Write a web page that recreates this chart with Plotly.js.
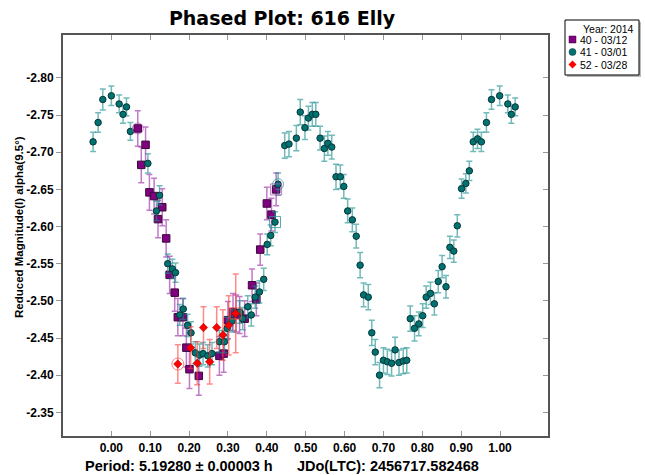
<!DOCTYPE html>
<html>
<head>
<meta charset="utf-8">
<script src="https://cdn.plot.ly/plotly-3.0.1.min.js"></script>
<style>html,body{margin:0;padding:0;background:#fff;}#chart{width:645px;height:475px;}</style>
</head>
<body>
<div id="chart"></div>
<script>
// ---- Session 40 - 03/12 (purple squares)
const phase40 = [0.068,0.077,0.088,0.098,0.110,0.120,0.131,0.141,0.150,0.163,0.171,0.184,0.193,0.201,0.225,0.278,0.289,0.300,0.313,0.321,0.330,0.343,0.362,0.373,0.383,0.400,0.412,0.424];
const mag40   = [-2.732,-2.683,-2.710,-2.646,-2.641,-2.610,-2.626,-2.584,-2.535,-2.511,-2.478,-2.478,-2.437,-2.408,-2.399,-2.426,-2.429,-2.474,-2.485,-2.483,-2.481,-2.476,-2.521,-2.502,-2.569,-2.631,-2.616,-2.650];
const err40   = [0.024,0.024,0.024,0.024,0.024,0.025,0.025,0.025,0.025,0.025,0.025,0.025,0.026,0.026,0.026,0.026,0.025,0.025,0.025,0.025,0.025,0.024,0.022,0.022,0.021,0.022,0.022,0.022];

// ---- Session 41 - 03/01 (teal circles)
const phase41 = [-0.047,-0.034,-0.022,0.000,0.020,0.030,0.039,0.049,0.094,0.116,0.124,0.145,0.157,0.165,0.176,0.185,0.196,0.205,0.216,0.227,0.236,0.248,0.259,0.278,0.291,0.298,0.311,0.330,0.338,0.351,0.360,0.370,0.381,0.392,0.401,0.410,0.421,0.429,0.446,0.457,0.476,0.486,0.498,0.507,0.517,0.526,0.537,0.548,0.557,0.567,0.578,0.589,0.598,0.608,0.620,0.630,0.640,0.649,0.661,0.670,0.679,0.690,0.700,0.710,0.721,0.730,0.740,0.751,0.760,0.769,0.780,0.791,0.801,0.810,0.821,0.831,0.841,0.851,0.861,0.871,0.881,0.890,0.901,0.912,0.921,0.931,0.942,0.952,0.965,0.978,0.999,1.020,1.029,1.039];
const mag41   = [-2.714,-2.740,-2.771,-2.776,-2.765,-2.751,-2.761,-2.728,-2.685,-2.621,-2.642,-2.550,-2.543,-2.538,-2.481,-2.489,-2.467,-2.457,-2.430,-2.427,-2.429,-2.426,-2.429,-2.445,-2.445,-2.463,-2.473,-2.485,-2.476,-2.492,-2.481,-2.505,-2.512,-2.529,-2.576,-2.588,-2.606,-2.657,-2.709,-2.711,-2.719,-2.754,-2.733,-2.746,-2.751,-2.751,-2.719,-2.705,-2.712,-2.707,-2.667,-2.667,-2.654,-2.621,-2.609,-2.587,-2.548,-2.508,-2.505,-2.457,-2.431,-2.400,-2.420,-2.418,-2.416,-2.434,-2.417,-2.419,-2.420,-2.476,-2.463,-2.469,-2.480,-2.505,-2.510,-2.496,-2.526,-2.546,-2.519,-2.572,-2.567,-2.601,-2.651,-2.658,-2.675,-2.714,-2.718,-2.714,-2.740,-2.771,-2.776,-2.765,-2.751,-2.761];
const err41   = [0.013,0.013,0.014,0.013,0.012,0.012,0.012,0.012,0.013,0.013,0.013,0.013,0.013,0.013,0.014,0.014,0.015,0.015,0.015,0.015,0.015,0.015,0.015,0.015,0.015,0.015,0.015,0.015,0.015,0.015,0.015,0.015,0.015,0.015,0.014,0.014,0.014,0.015,0.017,0.017,0.017,0.017,0.016,0.016,0.016,0.016,0.016,0.017,0.016,0.016,0.017,0.016,0.016,0.016,0.016,0.016,0.017,0.016,0.017,0.017,0.017,0.017,0.017,0.017,0.017,0.017,0.017,0.017,0.017,0.017,0.017,0.016,0.016,0.015,0.015,0.015,0.015,0.015,0.015,0.015,0.015,0.015,0.013,0.013,0.013,0.013,0.013,0.013,0.013,0.013,0.013,0.012,0.012,0.012];

// ---- Session 52 - 03/28 (red diamonds)
const phase52 = [0.171,0.204,0.221,0.237,0.253,0.271,0.287,0.302,0.320];
const mag52   = [-2.415,-2.437,-2.416,-2.464,-2.418,-2.464,-2.454,-2.467,-2.483];
const err52   = [0.026,0.028,0.029,0.028,0.030,0.028,0.034,0.040,0.053];

// highlighted (first/last point) markers, by index into each series
const circleIdx40 = [0];
const squareIdx40 = [27];
const circleIdx41 = [37];
const squareIdx41 = [36];
const circleIdx52 = [0];
const squareIdx52 = [8];

// ---- axis ticks / labels
const xTicks = [0,0.1,0.2,0.3,0.4,0.5,0.6,0.7,0.8,0.9,1.0];
const xTickText = ["0.00","0.10","0.20","0.30","0.40","0.50","0.60","0.70","0.80","0.90","1.00"];
const yTicks = [-2.80,-2.75,-2.70,-2.65,-2.60,-2.55,-2.50,-2.45,-2.40,-2.35];
const yTickText = ["-2.80","-2.75","-2.70","-2.65","-2.60","-2.55","-2.50","-2.45","-2.40","-2.35"];

const titleText = "Phased Plot: 616 Elly";
const yTitle = "Reduced Magnitude(I) alpha(9.5°)";
const footer = "Period: 5.19280 ± 0.00003 h\u00a0\u00a0\u00a0\u00a0\u00a0\u00a0JDo(LTC): 2456717.582468";
const legendTitle = "Year: 2014";
const names = ["40 - 03/12","41 - 03/01","52 - 03/28"];
const colors = ['#800080', '#007272', '#ff0000'];

const F = "Liberation Sans, Arial, sans-serif";

const pick = (arr, idx) => idx.map(i => arr[i]);

const traces = [
  {x: phase40, y: mag40, name: names[0], type: 'scatter', mode: 'markers',
   error_y: {type: 'data', array: err40, color: 'rgba(160,50,170,0.65)', thickness: 1.5, width: 3},
   marker: {symbol: 'square', size: 7.5, color: colors[0], line: {color: '#3a0a3a', width: 1}}},
  {x: phase41, y: mag41, name: names[1], type: 'scatter', mode: 'markers',
   error_y: {type: 'data', array: err41, color: 'rgba(20,140,140,0.6)', thickness: 1.5, width: 3},
   marker: {symbol: 'circle', size: 6.5, color: colors[1], line: {color: '#0a3535', width: 1}}},
  {x: phase52, y: mag52, name: names[2], type: 'scatter', mode: 'markers',
   error_y: {type: 'data', array: err52, color: 'rgba(255,60,60,0.6)', thickness: 1.5, width: 3},
   marker: {symbol: 'diamond', size: 6.5, color: colors[2], line: {color: '#900000', width: 0.5}}},
  {x: pick(phase40, circleIdx40), y: pick(mag40, circleIdx40), type: 'scatter', mode: 'markers', showlegend: false, hoverinfo: 'skip',
   marker: {symbol: 'circle-open', size: 11, color: 'rgba(180,80,190,0.7)', line: {width: 1}}},
  {x: pick(phase40, squareIdx40), y: pick(mag40, squareIdx40), type: 'scatter', mode: 'markers', showlegend: false, hoverinfo: 'skip',
   marker: {symbol: 'square-open', size: 11, color: 'rgba(180,80,190,0.8)', line: {width: 1}}},
  {x: pick(phase41, circleIdx41), y: pick(mag41, circleIdx41), type: 'scatter', mode: 'markers', showlegend: false, hoverinfo: 'skip',
   marker: {symbol: 'circle-open', size: 11, color: 'rgba(40,150,150,0.7)', line: {width: 1}}},
  {x: pick(phase41, squareIdx41), y: pick(mag41, squareIdx41), type: 'scatter', mode: 'markers', showlegend: false, hoverinfo: 'skip',
   marker: {symbol: 'square-open', size: 11, color: 'rgba(40,150,150,0.8)', line: {width: 1}}},
  {x: pick(phase52, circleIdx52), y: pick(mag52, circleIdx52), type: 'scatter', mode: 'markers', showlegend: false, hoverinfo: 'skip',
   marker: {symbol: 'circle-open', size: 12, color: 'rgba(255,80,80,0.7)', line: {width: 1}}},
  {x: pick(phase52, squareIdx52), y: pick(mag52, squareIdx52), type: 'scatter', mode: 'markers', showlegend: false, hoverinfo: 'skip',
   marker: {symbol: 'square-open', size: 11, color: 'rgba(255,80,80,0.8)', line: {width: 1}}},
  {x: [null], y: [null], yaxis: 'y2', type: 'scatter', mode: 'markers', showlegend: false, hoverinfo: 'skip'}
];

// ---- plot-area geometry (pixels) used to place the hand-drawn legend box
const M = {l: 63, r: 97, t: 35, b: 39};
const W = 645, H = 475;
const pw = W - M.l - M.r, ph = H - M.t - M.b;
const px = v => (v - M.l) / pw;            // pixel x -> paper x
const py = v => (H - M.b - v) / ph;        // pixel y -> paper y

const shapes = [
  // legend shadow + box
  {type: 'rect', xref: 'paper', yref: 'paper', x0: px(567), x1: px(641), y0: py(77), y1: py(22), line: {width: 0}, fillcolor: '#bbbbbb'},
  {type: 'rect', xref: 'paper', yref: 'paper', x0: px(565), x1: px(639), y0: py(75), y1: py(20), line: {width: 1, color: '#000'}, fillcolor: '#fff'},
  // legend symbols
  {type: 'rect', xref: 'paper', yref: 'paper', xsizemode: 'pixel', ysizemode: 'pixel', xanchor: px(572.5), yanchor: py(39.5),
   x0: -3.5, x1: 3.5, y0: -3.5, y1: 3.5, fillcolor: colors[0], line: {width: 0.5, color: '#3a0a3a'}},
  {type: 'circle', xref: 'paper', yref: 'paper', xsizemode: 'pixel', ysizemode: 'pixel', xanchor: px(572.5), yanchor: py(52),
   x0: -3.5, x1: 3.5, y0: -3.5, y1: 3.5, fillcolor: colors[1], line: {width: 0.5, color: '#0a3535'}},
  {type: 'path', xref: 'paper', yref: 'paper', xsizemode: 'pixel', ysizemode: 'pixel', xanchor: px(572.5), yanchor: py(64.5),
   path: 'M 0 4 L 4 0 L 0 -4 L -4 0 Z', fillcolor: colors[2], line: {width: 0}}
];

const legFont = {family: F, size: 10.5, color: '#000'};
const annotations = [
  {text: footer, xref: 'paper', yref: 'paper', x: px(282), y: py(466), xanchor: 'center', yanchor: 'middle', showarrow: false,
   font: {family: F, size: 14.5, color: '#000', weight: 'bold'}},
  {text: yTitle, textangle: -90, xref: 'paper', yref: 'paper', x: px(19), y: py(227), xanchor: 'center', yanchor: 'middle', showarrow: false,
   font: {family: F, size: 11.5, color: '#000', weight: 'bold'}},
  {text: legendTitle, xref: 'paper', yref: 'paper', x: px(636), y: py(28.5), xanchor: 'right', yanchor: 'middle', showarrow: false, font: legFont},
  {text: names[0], xref: 'paper', yref: 'paper', x: px(578), y: py(39.5), xanchor: 'left', yanchor: 'middle', showarrow: false, font: legFont},
  {text: names[1], xref: 'paper', yref: 'paper', x: px(578), y: py(52), xanchor: 'left', yanchor: 'middle', showarrow: false, font: legFont},
  {text: names[2], xref: 'paper', yref: 'paper', x: px(578), y: py(64.5), xanchor: 'left', yanchor: 'middle', showarrow: false, font: legFont}
];

const tickFont = {family: F, size: 12, color: '#000', weight: 'bold'};
const layout = {
  width: W, height: H,
  margin: Object.assign({autoexpand: false}, M),
  paper_bgcolor: '#fff', plot_bgcolor: '#fff',
  showlegend: false,
  title: {text: titleText, font: {family: 'DejaVu Sans, Liberation Sans, sans-serif', size: 19, color: '#000', weight: 'bold'},
          x: 282 / W, xref: 'container', xanchor: 'center', y: 1 - 18 / H, yref: 'container', yanchor: 'middle'},
  xaxis: {range: [-0.1244, 1.1234], tickvals: xTicks, ticktext: xTickText, ticks: 'inside', ticklen: 5,
          tickcolor: '#999', tickwidth: 1, mirror: 'ticks', showline: true, linecolor: '#555', linewidth: 2,
          showgrid: false, zeroline: false, tickfont: tickFont},
  yaxis: {range: [-2.3181, -2.8578], tickvals: yTicks, ticktext: yTickText, ticks: 'outside', ticklen: 5,
          tickcolor: '#999', tickwidth: 1, mirror: true, showline: true, linecolor: '#555', linewidth: 2,
          showgrid: false, zeroline: false, tickfont: tickFont},
  yaxis2: {overlaying: 'y', side: 'right', range: [-2.3181, -2.8578], tickvals: yTicks, ticks: 'inside', ticklen: 5,
           tickcolor: '#999', showticklabels: false, showline: false, showgrid: false, zeroline: false},
  shapes: shapes,
  annotations: annotations
};

Plotly.newPlot('chart', traces, layout, {displayModeBar: false, staticPlot: true});
</script>
</body>
</html>
